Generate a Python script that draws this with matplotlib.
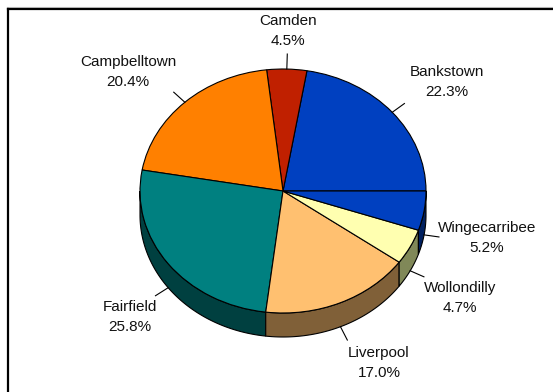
import numpy as np
import matplotlib
matplotlib.use("Agg")
import matplotlib.pyplot as plt
from matplotlib.lines import Line2D

plt.rcParams.update({
    "font.family": ["Liberation Sans", "DejaVu Sans"],
    "font.size": 11,
})

# ---------- data ----------
regions = ["Bankstown", "Camden", "Campbelltown", "Fairfield",
           "Liverpool", "Wollondilly", "Wingecarribee"]
shares = [22.3, 4.5, 20.4, 25.8, 17.0, 4.7, 5.2]
pct_labels = ["22.3%", "4.5%", "20.4%", "25.8%", "17.0%", "4.7%", "5.2%"]

top_colors = ["#0040C0", "#C02000", "#FF8000", "#008080",
              "#FFC070", "#FFFFB0", "#0040C0"]
side_colors = ["#002060", "#601000", "#804000", "#004040",
               "#806038", "#808858", "#002060"]

# layout (pixels of the 553x392 canvas)
W, H = 553, 392
CX, CY = 283, 191        # pie centre
RX, RY = 143, 122        # ellipse radii
DEPTH = 24               # side wall thickness
label_xy = [(447, 82), (288, 31), (128, 72), (130, 317),
            (379, 363), (460, 298), (487, 238)]


def px2data(px, py):
    return (px - CX) / RX, (CY - py) / RY


fig = plt.figure(figsize=(W / 100, H / 100), dpi=100)
ax = fig.add_axes([0, 0, 1, 1])

wedges, _ = ax.pie(shares, colors=top_colors, startangle=0, counterclock=True,
                   radius=1, wedgeprops=dict(edgecolor="black", linewidth=0.8))
for w in wedges:
    w.set_zorder(3)

ax.set_aspect("auto")
ax.set_xlim(px2data(0, 0)[0], px2data(W, 0)[0])
ax.set_ylim(px2data(0, H)[1], px2data(0, 0)[1])
ax.axis("off")

d = DEPTH / RY

# side walls for the front half of the pie
for w, sc in zip(wedges, side_colors):
    t1, t2 = max(w.theta1, 180), min(w.theta2, 360)
    if t2 <= t1:
        continue
    t = np.radians(np.linspace(t1, t2, 80))
    xs = np.concatenate([np.cos(t), np.cos(t[::-1])])
    ys = np.concatenate([np.sin(t), np.sin(t[::-1]) - d])
    ax.fill(xs, ys, facecolor=sc, edgecolor="black", linewidth=0.8, zorder=2)

# labels with leader lines
for w, name, pct, (lx, ly) in zip(wedges, regions, pct_labels, label_xy):
    mid = np.radians((w.theta1 + w.theta2) / 2)
    x0, y0 = np.cos(mid), np.sin(mid)
    if y0 < 0:
        y0 -= d
    vx, vy = RX * np.cos(mid), RY * np.sin(mid)
    n = np.hypot(vx, vy)
    L = 15
    x1 = x0 + L * vx / n / RX
    y1 = y0 + L * vy / n / RY
    ax.plot([x0, x1], [y0, y1], color="black", linewidth=0.8, zorder=4)
    tx, ty = px2data(lx, ly - 10)
    ax.text(tx, ty, name, ha="center", va="center", color="#111111")
    tx, ty = px2data(lx, ly + 10)
    ax.text(tx, ty, pct, ha="center", va="center", color="#111111")

# chart-area frame (only top and left edges are inside the image)
fig.add_artist(Line2D([7 / W, 1], [1 - 7 / H, 1 - 7 / H], color="#c8c8c8",
                      linewidth=0.8))
fig.add_artist(Line2D([7.5 / W, 1], [1 - 9.2 / H, 1 - 9.2 / H], color="black",
                      linewidth=1.6, solid_capstyle="projecting"))
fig.add_artist(Line2D([7.5 / W, 7.5 / W], [0, 1 - 9.2 / H], color="black",
                      linewidth=1.6, solid_capstyle="projecting"))

fig.savefig("out.png", dpi=100)
